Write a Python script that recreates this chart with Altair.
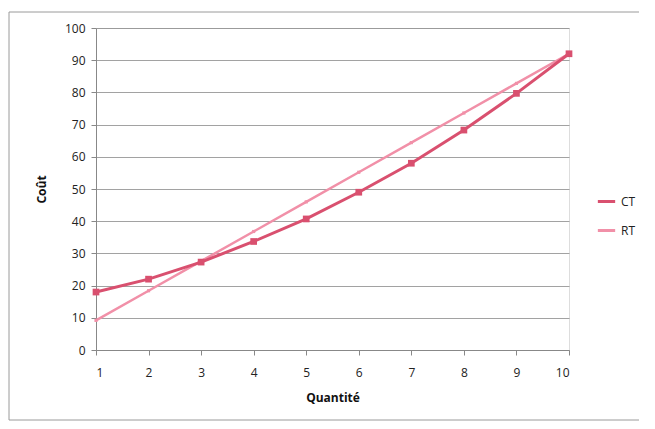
import altair as alt
import pandas as pd

quantite = [1, 2, 3, 4, 5, 6, 7, 8, 9, 10]
ct = [18.0, 22.0, 27.3, 33.7, 40.7, 49.0, 58.0, 68.3, 79.7, 92.0]
rt = [9.2, 18.4, 27.6, 36.8, 46.0, 55.2, 64.4, 73.6, 82.8, 92.0]
series = ["CT", "RT"]
colors = ["#d9506f", "#f190a8"]

df = pd.DataFrame(
    {"Quantité": quantite * 2,
     "Coût": ct + rt,
     "Série": ["CT"] * len(quantite) + ["RT"] * len(quantite)}
)

font = "Open Sans"

x = alt.X("Quantité:Q",
          scale=alt.Scale(domain=[1, 10], nice=False, zero=False),
          axis=alt.Axis(values=quantite, grid=False, title="Quantité",
                        titleFontWeight="bold", titleFontSize=12, titlePadding=14,
                        labelFontSize=12, labelPadding=12, tickSize=5,
                        domainColor="#888", tickColor="#888", labelColor="#222",
                        titleColor="#111"))
y = alt.Y("Coût:Q",
          scale=alt.Scale(domain=[0, 100], nice=False),
          axis=alt.Axis(values=list(range(0, 101, 10)), grid=True, gridColor="#8a8a8a",
                        gridWidth=0.8, title="Coût", titleFontWeight="bold",
                        titleFontSize=12, titlePadding=16, labelFontSize=12,
                        labelPadding=6, tickSize=5, domainColor="#888",
                        tickColor="#888", labelColor="#222", titleColor="#111"))
color = alt.Color("Série:N",
                  scale=alt.Scale(domain=series, range=colors),
                  legend=alt.Legend(title=None, orient="none", legendX=500, legendY=163,
                                    labelFontSize=12, symbolType="stroke",
                                    symbolStrokeWidth=3, symbolSize=300,
                                    rowPadding=12, labelColor="#222"))

ct_layer = alt.Chart(df).transform_filter(alt.datum["Série"] == "CT").mark_line(
    strokeWidth=3,
    point=alt.OverlayMarkDef(shape="square", size=45, filled=True, color=colors[0])
).encode(x=x, y=y, color=color)

rt_layer = alt.Chart(df).transform_filter(alt.datum["Série"] == "RT").mark_line(
    strokeWidth=2.5,
    point=alt.OverlayMarkDef(shape="square", size=10, filled=True, color=colors[1])
).encode(x=x, y=y, color=color)

frame = alt.Chart(pd.DataFrame({"k": [0]})).mark_rect(
    fill=None, stroke="#9a9a9a", strokeWidth=1
).encode(x=alt.value(-87), x2=alt.value(550), y=alt.value(-16), y2=alt.value(392))

chart = alt.layer(frame, rt_layer, ct_layer).properties(
    width=473, height=322,
    autosize=alt.AutoSizeParams(type="none"),
    padding={"left": 88, "top": 20, "right": 70, "bottom": 71},
).configure_view(stroke=None).configure(font=font)

chart.save("out.html", embed_options={"renderer": "svg", "actions": False})
